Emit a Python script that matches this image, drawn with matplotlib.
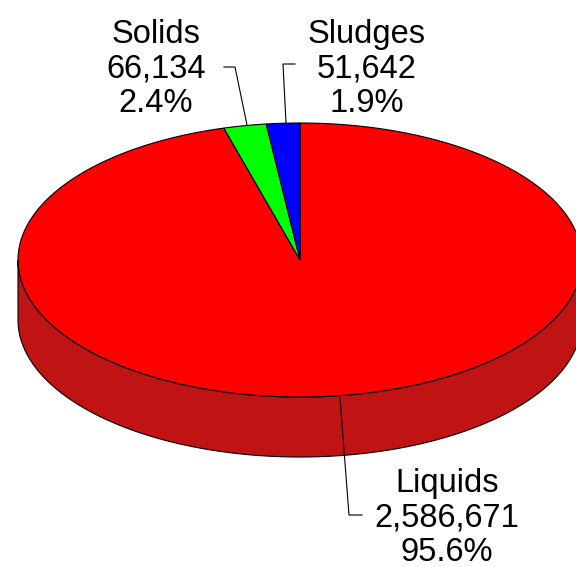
import numpy as np
import matplotlib.pyplot as plt
from matplotlib.patches import Polygon

plt.rcParams['font.family'] = ['Liberation Sans', 'DejaVu Sans']

# waste streams, in order clockwise from 12 o'clock
categories = ['Liquids', 'Solids', 'Sludges']
amounts = [2586671, 66134, 51642]
top_colors = ['#FF0000', '#00FF00', '#0000FF']
side_color = '#C01414'

# label block centres and leader line vertices (pixel coords)
label_xy = [(447, 518), (156, 69), (367, 69)]
leaders = [
    [(340, 398), (349, 515), (362, 515)],
    [(247, 125), (235, 67), (224, 67)],
    [(286, 123), (283, 64), (295, 64)],
]

cx, cy = 300, 260
rx, ry = 282, 137
depth = 60

fig = plt.figure(figsize=(5.76, 5.67), dpi=100)
ax = fig.add_axes([0, 0, 1, 1])
ax.set_xlim(0, 576)
ax.set_ylim(567, 0)
ax.axis('off')


def rim(t0, t1, n=200, dy=0):
    t = np.linspace(t0, t1, n)
    return np.column_stack([cx + rx * np.sin(t), cy - ry * np.cos(t) + dy])


total = sum(amounts)
fracs = np.array(amounts) / total
edges = np.concatenate([[0], np.cumsum(fracs)]) * 2 * np.pi

# side wall, front half only
front = rim(np.pi / 2, 3 * np.pi / 2)
wall = np.vstack([front, front[::-1] + [0, depth]])
ax.add_patch(Polygon(wall, closed=True, fc=side_color, ec='black', lw=0.8))

# top face wedges
for i, c in enumerate(top_colors):
    pts = np.vstack([[cx, cy], rim(edges[i], edges[i + 1]), [cx, cy]])
    ax.add_patch(Polygon(pts, closed=True, fc=c, ec='black', lw=0.8))

for name, val, frac, (tx, ty), pts in zip(categories, amounts, fracs,
                                          label_xy, leaders):
    xs, ys = zip(*pts)
    ax.plot(xs, ys, color='black', lw=0.8)
    ax.text(tx, ty, f'{name}\n{val:,}\n{frac * 100:.1f}%', ha='center',
            va='center', fontsize=23.5, linespacing=1.16)

fig.savefig('out.png', dpi=100)
